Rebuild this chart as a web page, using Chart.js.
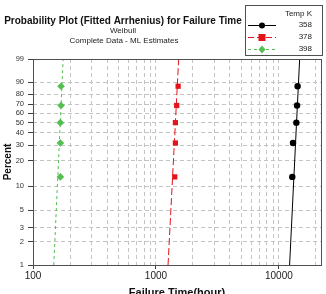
<!DOCTYPE html>
<html>
<head>
<meta charset="utf-8">
<script src="https://cdn.jsdelivr.net/npm/chart.js@4/dist/chart.umd.min.js"></script>
<style>
  body { margin: 0; background: #fff; }
  canvas { display: block; }
</style>
</head>
<body>
<canvas id="myChart" width="326" height="294"></canvas>
<script>
// failure times (hours), one array per temperature
const percents = [12.9, 31.5, 50, 68.5, 87.1];
const times358 = [12850, 13030, 13870, 14050, 14200];
const times378 = [1421, 1439, 1439, 1475, 1515];
const times398 = [167, 167, 167, 169, 169];

// fitted lines, endpoints at 1% and 99%
const fitPercents = [1, 99];
const fit358 = [12220, 14750];
const fit378 = [1254, 1531];
const fit398 = [147.5, 176];

const tempLabels = ['358', '378', '398'];
const yTickLabels = [1, 2, 3, 5, 10, 20, 30, 40, 50, 60, 70, 80, 90, 99];
const xTickLabels = [100, 1000, 10000];

// weibull probability paper: y = ln(-ln(1-p))
const weib = (pct) => Math.log(-Math.log(1 - pct / 100));

const toPoints = (times, pcts) => times.map((t, i) => ({ x: t, y: weib(pcts[i]) }));

const GREEN = '#52bf4f';
const RED = '#e3141c';
const BLACK = '#000000';

const headerPlugin = {
    id: 'header',
    afterDraw(chart) {
        const ctx = chart.ctx;
        const area = chart.chartArea;
        ctx.save();

        // frame around the plot area
        ctx.strokeStyle = '#505050';
        ctx.lineWidth = 1;
        ctx.strokeRect(area.left + 0.5, area.top + 0.5, area.right - area.left, area.bottom - area.top);

        // titles
        ctx.fillStyle = '#111';
        ctx.textAlign = 'center';
        ctx.textBaseline = 'middle';
        ctx.font = 'bold 10px "Liberation Sans", Arial, sans-serif';
        ctx.fillText('Probability Plot (Fitted Arrhenius) for Failure Time', 123, 21);
        ctx.font = '8px "Liberation Sans", Arial, sans-serif';
        ctx.fillStyle = '#222';
        ctx.fillText('Weibull', 123, 31);
        ctx.fillText('Complete Data - ML Estimates', 124, 41);

        // legend box
        ctx.strokeStyle = '#505050';
        ctx.strokeRect(245.5, 5.5, 77, 50);
        ctx.textAlign = 'right';
        ctx.font = '8px "Liberation Sans", Arial, sans-serif';
        ctx.fillText('Temp K', 312, 14);

        const rows = [
            { color: BLACK, dash: [], shape: 'circle', y: 25 },
            { color: RED, dash: [6, 3], shape: 'rect', y: 37 },
            { color: GREEN, dash: [3, 3], shape: 'rectRot', y: 49 }
        ];
        rows.forEach((r, i) => {
            ctx.strokeStyle = r.color;
            ctx.fillStyle = r.color;
            ctx.lineWidth = 1;
            ctx.setLineDash(r.dash);
            ctx.beginPath();
            ctx.moveTo(248, r.y + 0.5);
            ctx.lineTo(276, r.y + 0.5);
            ctx.stroke();
            ctx.setLineDash([]);
            ctx.beginPath();
            if (r.shape === 'circle') {
                ctx.arc(262, r.y + 0.5, 3, 0, Math.PI * 2);
            } else if (r.shape === 'rect') {
                ctx.rect(258.5, r.y - 3, 7, 7);
            } else {
                ctx.moveTo(262, r.y - 3.5);
                ctx.lineTo(265.5, r.y + 0.5);
                ctx.lineTo(262, r.y + 4.5);
                ctx.lineTo(258.5, r.y + 0.5);
                ctx.closePath();
            }
            ctx.fill();
            ctx.fillStyle = '#222';
            ctx.fillText(tempLabels[i], 312, r.y);
        });
        ctx.restore();
    }
};

const bgPlugin = {
    id: 'bg',
    beforeDraw(chart) {
        const ctx = chart.ctx;
        ctx.save();
        ctx.fillStyle = '#fff';
        ctx.fillRect(0, 0, chart.width, chart.height);
        ctx.restore();
    }
};

function makeChart() {
    const ctx = document.getElementById('myChart').getContext('2d');

    const pointSet = (times, color, style, radius) => ({
        data: toPoints(times, percents),
        showLine: false,
        pointStyle: style,
        pointRadius: radius,
        pointBackgroundColor: color,
        pointBorderColor: color,
        pointBorderWidth: 0
    });
    const fitSet = (times, color, dash) => ({
        data: toPoints(times, fitPercents),
        showLine: true,
        borderColor: color,
        borderWidth: 1,
        borderDash: dash,
        pointRadius: 0,
        fill: false
    });

    // minor log gridlines 100..20000
    const xGrid = [];
    for (let dec = 100; dec <= 10000; dec *= 10) {
        for (let m = 1; m <= 9; m++) {
            xGrid.push(dec * m);
        }
    }
    xGrid.push(20000);

    new Chart(ctx, {
        type: 'scatter',
        data: {
            datasets: [
                fitSet(fit358, BLACK, []),
                fitSet(fit378, RED, [7, 3]),
                fitSet(fit398, GREEN, [3, 3]),
                pointSet(times358, BLACK, 'circle', 3.2),
                pointSet(times378, RED, 'rect', 3.7),
                pointSet(times398, GREEN, 'rectRot', 3.8)
            ]
        },
        options: {
            responsive: false,
            animation: false,
            layout: {
                padding: { top: 59, right: 5, left: 0, bottom: 0 }
            },
            plugins: {
                legend: { display: false },
                title: { display: false },
                tooltip: { enabled: false }
            },
            scales: {
                x: {
                    type: 'logarithmic',
                    min: 100,
                    max: 22000,
                    afterFit: (scale) => { scale.height = 29; },
                    afterBuildTicks: (scale) => {
                        scale.ticks = xGrid.map(v => ({ value: v }));
                    },
                    border: { display: false, dash: [4, 3] },
                    grid: {
                        color: (c) => c.tick && c.tick.value === 100 ? 'transparent' : '#c4c4c4',
                        tickColor: (c) => c.tick && xTickLabels.includes(c.tick.value) ? '#404040' : 'transparent',
                        tickLength: 4
                    },
                    ticks: {
                        autoSkip: false,
                        maxRotation: 0,
                        padding: 1,
                        color: '#222',
                        font: { family: '"Liberation Sans", Arial, sans-serif', size: 10 },
                        callback: (value) => xTickLabels.includes(value) ? String(value) : ''
                    },
                    title: {
                        display: true,
                        text: 'Failure Time(hour)',
                        color: '#111',
                        font: { family: '"Liberation Sans", Arial, sans-serif', size: 11, weight: 'bold' },
                        padding: { top: 0, bottom: -6 }
                    }
                },
                y: {
                    type: 'linear',
                    min: weib(1),
                    max: weib(99),
                    afterFit: (scale) => { scale.width = 33; },
                    afterBuildTicks: (scale) => {
                        scale.ticks = yTickLabels.map(p => ({ value: weib(p) }));
                    },
                    border: { display: false, dash: [4, 3] },
                    grid: {
                        color: (c) => c.index === 0 || c.index === yTickLabels.length - 1 ? 'transparent' : '#c4c4c4',
                        tickColor: '#404040',
                        tickLength: 5
                    },
                    ticks: {
                        autoSkip: false,
                        padding: 4,
                        color: '#333',
                        font: { family: '"Liberation Sans", Arial, sans-serif', size: 7.5 },
                        callback: (value, index) => String(yTickLabels[index])
                    },
                    title: {
                        display: true,
                        text: 'Percent',
                        color: '#111',
                        font: { family: '"Liberation Sans", Arial, sans-serif', size: 10, weight: 'bold' },
                        padding: { top: 2, bottom: 0 }
                    }
                }
            }
        },
        plugins: [bgPlugin, headerPlugin]
    });
}

makeChart();
</script>
</body>
</html>
